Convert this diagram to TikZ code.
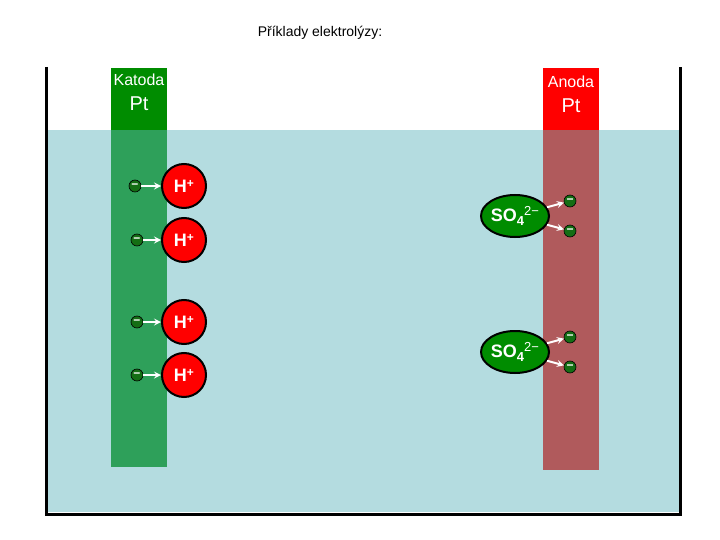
\documentclass[tikz,border=0pt]{standalone}
\usepackage{fontspec}
\setmainfont{Liberation Sans}
\usetikzlibrary{shapes.geometric}
\definecolor{water}{RGB}{180,220,224}
\definecolor{kgreen}{RGB}{0,140,0}
\definecolor{kgreenw}{RGB}{46,160,90}
\definecolor{ared}{RGB}{255,0,0}
\definecolor{aredw}{RGB}{176,90,92}
\definecolor{egreen}{RGB}{20,110,20}
\newcommand{\fs}[1]{\fontsize{#1}{#1}\selectfont}
\newcommand{\sulf}{SO\raisebox{-4pt}{\fs{13}4}\raisebox{6pt}{\fs{13}\mdseries 2\textminus}}
\begin{document}
\begin{tikzpicture}[x=1pt,y=-1pt,
 ion/.style={circle,fill=red,draw=black,line width=2pt,minimum size=44pt,inner sep=0pt,text=white,font=\bfseries\fs{18}},
 anion/.style={ellipse,fill=kgreen,draw=black,line width=2pt,minimum width=62pt,minimum height=42pt,inner sep=0pt,text=white,font=\bfseries\fs{18}},
 el/.style={circle,fill=egreen,draw=black,line width=0.6pt,minimum size=12pt,inner sep=0pt,label={[white,inner sep=0pt,font=\bfseries\fs{12}]center:\textminus}},
 flow/.style={white,line width=2pt,-stealth}]
\useasboundingbox (0,0) rectangle (720,540);
\node[font=\fs{14}] (title) at (320,33) {Příklady elektrolýzy:};
\fill[water] (47,130) rectangle (679,512);
\draw[line width=3pt] (46,67) -- (46,514) -- (680,514) -- (680,67);
\fill[kgreen] (111,68) rectangle (167,130);
\fill[kgreenw] (111,130) rectangle (167,467);
\fill[ared] (543,68) rectangle (599,130);
\fill[aredw] (543,130) rectangle (599,470);
\node[white,font=\fs{16}] (kat) at (139,80) {Katoda};
\node[white,font=\fs{20}] (kpt) at (139,104) {Pt};
\node[white,font=\fs{16}] (ano) at (571,82) {Anoda};
\node[white,font=\fs{20}] (apt) at (571,106) {Pt};
\foreach \i/\ex/\y in {1/135/186,2/137/240,3/137/322,4/137/375}{
 \node[ion] (h\i) at (184,\y) {H\raisebox{5pt}{\fs{12}+}};
 \node[el] (e\i) at (\ex,\y) {};
 \draw[flow] (e\i) -- (h\i);
}
\node[anion] (s1) at (515,216) {\sulf};
\node[anion] (s2) at (515,352) {\sulf};
\node[el] (f1) at (570,201) {};
\node[el] (f2) at (570,231) {};
\node[el] (f3) at (570,337) {};
\node[el] (f4) at (570,367) {};
\draw[flow] (s1) -- (f1);
\draw[flow] (s1) -- (f2);
\draw[flow] (s2) -- (f3);
\draw[flow] (s2) -- (f4);
\end{tikzpicture}
\end{document}
